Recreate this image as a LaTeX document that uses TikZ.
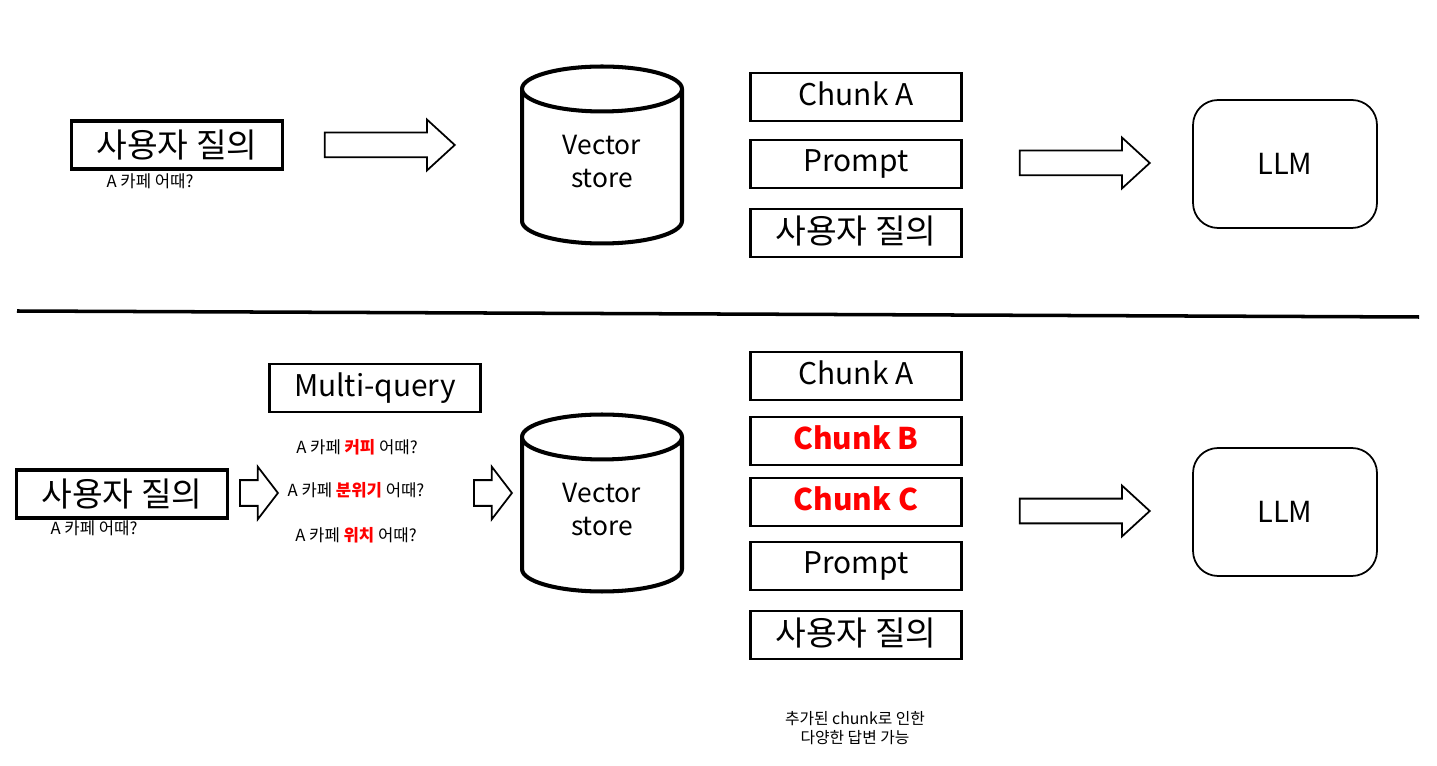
\documentclass[tikz,border=0pt]{standalone}
\usepackage{fontspec}
\setmainfont{Noto Sans CJK KR}
\usepackage{xcolor}
\usetikzlibrary{shapes.geometric,shapes.arrows}
\tikzset{
    qbox/.style = {rectangle, draw=black, line width=2.2pt, minimum width=4.22cm, minimum height=0.96cm, inner sep=0pt, font=\fontsize{19}{22}\selectfont},
    chunkbox/.style = {rectangle, draw=black, line width=1.6pt, minimum width=4.22cm, minimum height=0.96cm, inner sep=0pt, text depth=0.12cm, font=\fontsize{17}{20}\selectfont},
    store/.style = {cylinder, shape border rotate=90, aspect=0.5, draw=black, line width=2.3pt, minimum width=3.2cm, minimum height=3.54cm, align=center, text depth=0.4cm, anchor=shape center, font=\fontsize{15}{19}\selectfont},
    llm/.style = {rectangle, rounded corners=0.5cm, draw=black, line width=1pt, minimum width=3.68cm, minimum height=2.56cm, font=\fontsize{16.5}{19}\selectfont},
    bigarrow/.style = {single arrow, draw=black, line width=1pt, minimum height=2.6cm, inner xsep=0pt, inner ysep=0.23cm, single arrow head extend=0.26cm, single arrow tip angle=85},
    smallarrow/.style = {single arrow, draw=black, line width=1pt, minimum height=0.76cm, inner xsep=0pt, inner ysep=0.24cm, single arrow head extend=0.27cm, single arrow tip angle=105},
    note/.style = {inner sep=1pt, font=\fontsize{9.5}{11}\selectfont},
    hot/.style = {text=red, font=\fontsize{17}{20}\selectfont\bfseries}
}
\newcommand{\red}[1]{\textcolor{red}{\bfseries #1}}

\begin{document}
\begin{tikzpicture}[x=0.02cm, y=-0.02cm]
\useasboundingbox (0,0) rectangle (1437,766);

% plain RAG
\node (ask) [qbox] at (177,145) {사용자 질의};
\node (askq) [note] at (150,181) {A 카페 어때?};
\node (go1) [bigarrow] at (383,145) {};
\node (vs1) [store] at (602,155) {Vector\\store};
\node (ca1) [chunkbox] at (856,97) {Chunk A};
\node (pr1) [chunkbox] at (856,164) {Prompt};
\node (uq1) [chunkbox, font=\fontsize{19}{22}\selectfont] at (856,233) {사용자 질의};
\node (go2) [bigarrow] at (1078,163) {};
\node (llm1) [llm] at (1285,164) {LLM};

\draw [line width=2pt] (17,311) -- (1419,317);

% multi-query RAG
\node (mq) [chunkbox] at (375,388) {Multi-query};
\node (ask2) [qbox] at (122,494) {사용자 질의};
\node (askq2) [note] at (94,528) {A 카페 어때?};
\node (go3) [smallarrow] at (254,493) {};
\node (q1) [note] at (357,447) {A 카페 \red{커피} 어때?};
\node (q2) [note] at (356,490) {A 카페 \red{분위기} 어때?};
\node (q3) [note] at (356,535) {A 카페 \red{위치} 어때?};
\node (go4) [smallarrow] at (488,493) {};
\node (vs2) [store] at (602,503) {Vector\\store};
\node (ca2) [chunkbox] at (856,376) {Chunk A};
\node (cb2) [chunkbox, hot] at (856,441) {Chunk B};
\node (cc2) [chunkbox, hot] at (856,502) {Chunk C};
\node (pr2) [chunkbox] at (856,566) {Prompt};
\node (uq2) [chunkbox, font=\fontsize{19}{22}\selectfont] at (856,635) {사용자 질의};
\node (go5) [bigarrow] at (1078,511) {};
\node (llm2) [llm] at (1285,512) {LLM};
\node (gain) [note, align=center, font=\fontsize{9}{10.5}\selectfont] at (855,728) {추가된 chunk로 인한\\다양한 답변 가능};
\end{tikzpicture}
\end{document}
